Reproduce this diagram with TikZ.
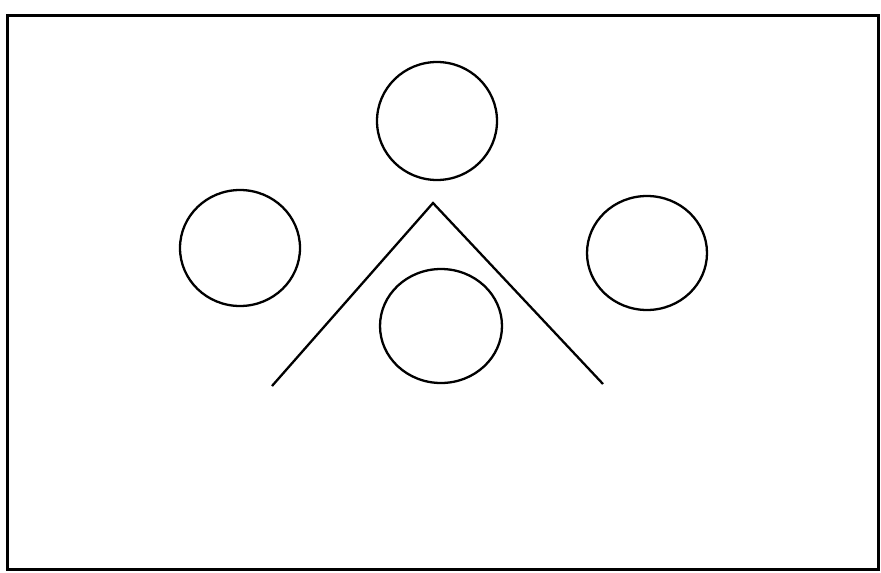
\documentclass[tikz,border=0pt]{standalone}
\begin{document}
\begin{tikzpicture}[x=1pt,y=-1pt,
  ring/.style={draw=black,line width=2.3pt,ellipse},
  stroke/.style={draw=black,line width=2.3pt}]
\useasboundingbox (0,0) rectangle (881,573);
\fill[white] (0,0) rectangle (881,573);
\draw[line width=3pt] (7,15) rectangle (878,569);
\draw[stroke] (437,121) ellipse [x radius=60, y radius=59];
\draw[stroke] (240,248) ellipse [x radius=60, y radius=58];
\draw[stroke] (647,253) ellipse [x radius=60, y radius=57];
\draw[stroke] (441,326) ellipse [x radius=61, y radius=57];
\coordinate (L) at (272,386);
\coordinate (A) at (433,203);
\coordinate (R) at (603,384);
\draw[stroke] (L) -- (A) -- (R);
\end{tikzpicture}
\end{document}
